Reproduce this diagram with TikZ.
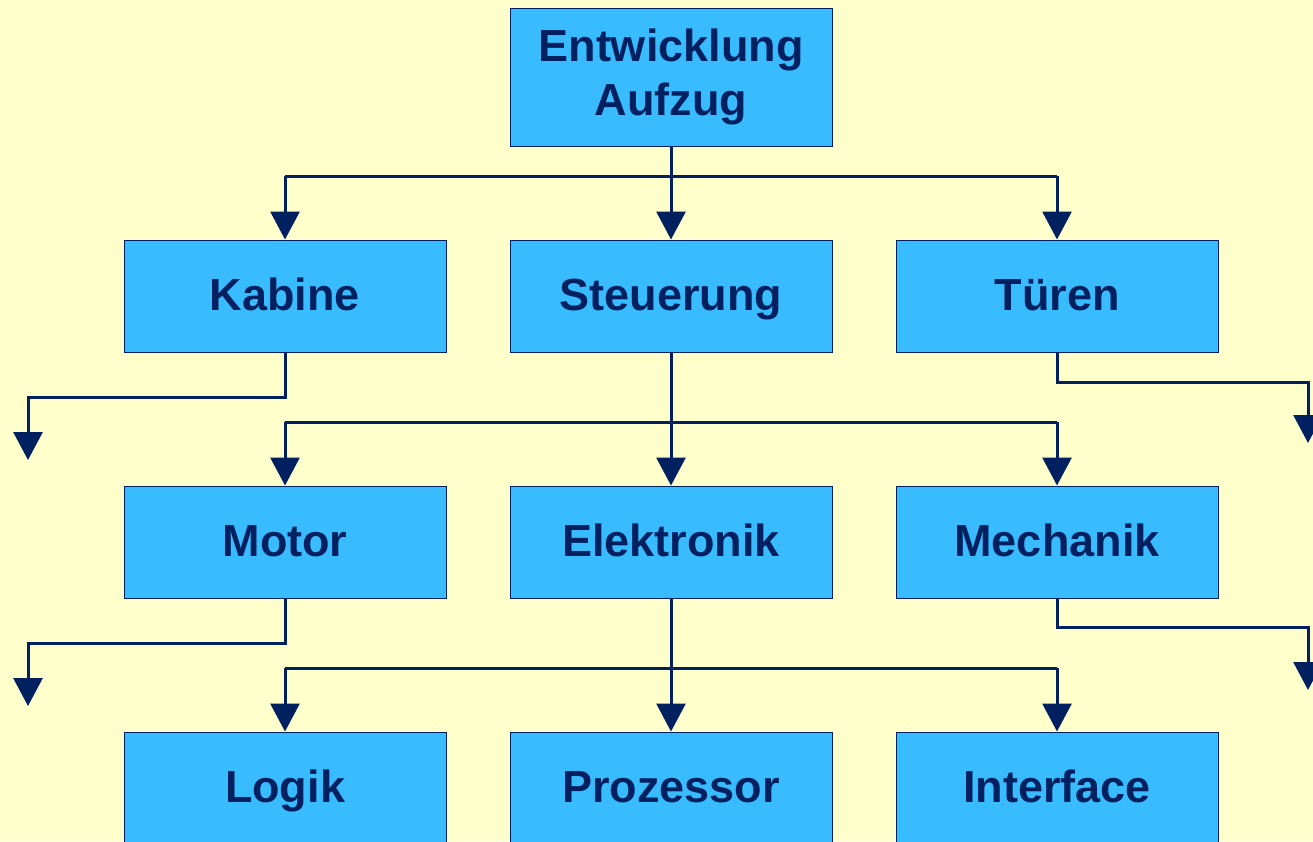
\documentclass[tikz,border=0pt]{standalone}
\usepackage{fontspec}
\setmainfont{Liberation Sans}
\usetikzlibrary{arrows.meta}
\definecolor{bgc}{HTML}{FFFFCC}
\definecolor{boxc}{HTML}{38BCFF}
\definecolor{navy}{HTML}{002060}
\tikzset{
  boxbase/.style={draw=navy, line width=1pt, fill=boxc, minimum width=322pt, minimum height=112pt,
    inner sep=0pt, text=navy, font=\fontsize{45}{54}\selectfont\bfseries},
  box/.style={boxbase, text height=33pt, text depth=5pt},
  topbox/.style={boxbase, minimum height=138pt, align=center},
  conn/.style={draw=navy, line width=3pt, -{Triangle[length=28pt,width=29pt]}},
  plain/.style={draw=navy, line width=3pt}
}
\begin{document}
\begin{tikzpicture}[x=1pt,y=-1pt]
\useasboundingbox (0,0) rectangle (1313,841);
\clip (0,0) rectangle (1313,841);
\fill[bgc] (0,0) rectangle (1313,841);
% boxes
\node[topbox] (top) at (671,77) {Entwicklung\\Aufzug};
\node[box] (kab) at (285,296) {Kabine};
\node[box] (ste) at (671,296) {Steuerung};
\node[box] (tur) at (1057,296) {Türen};
\node[box] (mot) at (285,542) {Motor};
\node[box] (ele) at (671,542) {Elektronik};
\node[box] (mec) at (1057,542) {Mechanik};
\node[box] (log) at (285,788) {Logik};
\node[box] (pro) at (671,788) {Prozessor};
\node[box] (int) at (1057,788) {Interface};
% free ends
\coordinate (kabend) at (28,460);
\coordinate (turend) at (1308,443);
\coordinate (motend) at (28,706);
\coordinate (mecend) at (1308,690);
% top level
\draw[plain] (kab.north |- 0,176) -- (tur.north |- 0,176);
\draw[conn] (top.south) -- (ste.north);
\draw[conn] (kab.north |- 0,176) -- (kab.north);
\draw[conn] (tur.north |- 0,176) -- (tur.north);
% second level
\draw[conn] (kab.south) -- (kab.south |- 0,397) -- (kabend |- 0,397) -- (kabend);
\draw[conn] (tur.south) -- (tur.south |- 0,382) -- (turend |- 0,382) -- (turend);
\draw[plain] (mot.north |- 0,422) -- (mec.north |- 0,422);
\draw[conn] (ste.south) -- (ele.north);
\draw[conn] (mot.north |- 0,422) -- (mot.north);
\draw[conn] (mec.north |- 0,422) -- (mec.north);
% third level
\draw[conn] (mot.south) -- (mot.south |- 0,643) -- (motend |- 0,643) -- (motend);
\draw[conn] (mec.south) -- (mec.south |- 0,627) -- (mecend |- 0,627) -- (mecend);
\draw[plain] (log.north |- 0,668) -- (int.north |- 0,668);
\draw[conn] (ele.south) -- (pro.north);
\draw[conn] (log.north |- 0,668) -- (log.north);
\draw[conn] (int.north |- 0,668) -- (int.north);
\end{tikzpicture}
\end{document}
